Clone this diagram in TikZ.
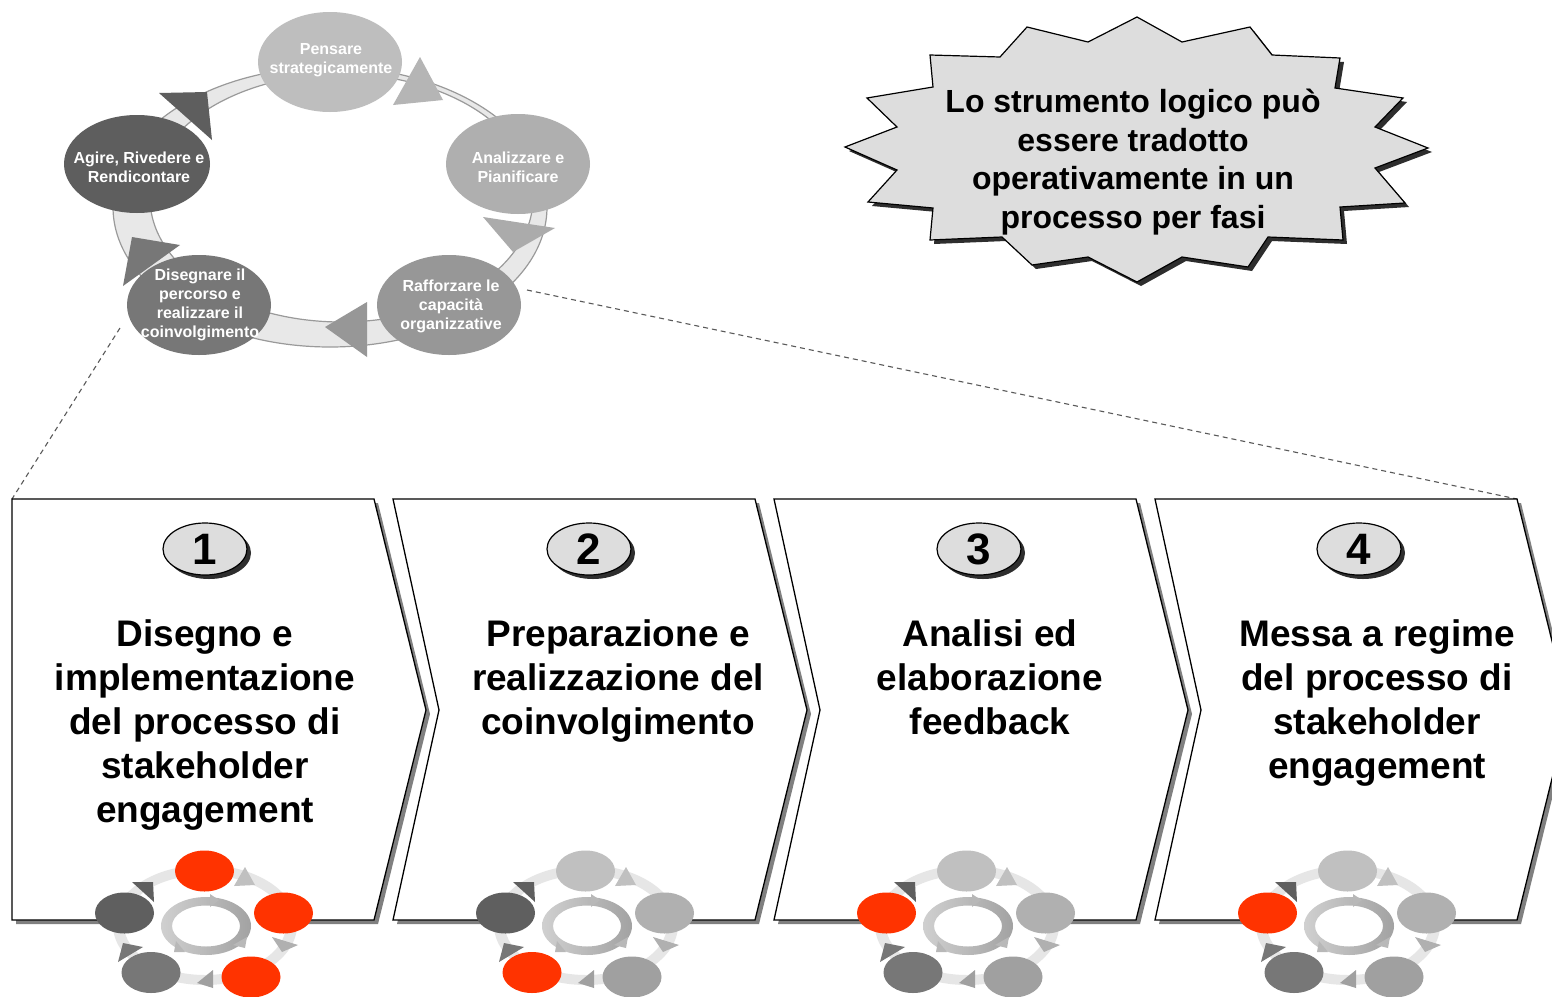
\documentclass[tikz,border=0pt]{standalone}
\usepackage{fontspec}
\setmainfont{Liberation Sans}
\usetikzlibrary{shapes.geometric,shadows}
\definecolor{redc}{HTML}{FF3300}
\definecolor{g1}{HTML}{BEBEBE}
\definecolor{g2}{HTML}{AFAFAF}
\definecolor{g3}{HTML}{979797}
\definecolor{g4}{HTML}{777777}
\definecolor{g5}{HTML}{5E5E5E}
\definecolor{t1c}{HTML}{B5B5B5}
\definecolor{t2c}{HTML}{ABABAB}
\definecolor{t3c}{HTML}{979797}
\definecolor{ringfill}{HTML}{E8E8E8}
\definecolor{ringedge}{HTML}{9A9A9A}
\definecolor{burstfill}{HTML}{DDDDDD}
\definecolor{burstshadow}{HTML}{2E2E2E}
\definecolor{chevshadow}{HTML}{808080}
\definecolor{numfill}{HTML}{DDDDDD}
\definecolor{dashc}{HTML}{5A5A5A}
\definecolor{s1}{HTML}{C0C0C0}
\definecolor{s2}{HTML}{B0B0B0}
\definecolor{s3}{HTML}{A0A0A0}
\definecolor{s4}{HTML}{777777}
\definecolor{s5}{HTML}{5F5F5F}
\definecolor{mtrack}{HTML}{E6E6E6}
\definecolor{ringL}{HTML}{D0D0D0}
\definecolor{ringR}{HTML}{A2A2A2}
\definecolor{tinyc}{HTML}{B8B8B8}
\tikzset{
  cyc/.style={ellipse, minimum width=144pt, minimum height=100pt, inner sep=0pt, draw=none},
  cyctxt/.style={text=white, font=\bfseries\fontsize{16}{19}\selectfont, align=center, inner sep=0pt},
  chevtxt/.style={font=\bfseries\fontsize{37}{44}\selectfont, align=center, inner sep=0pt},
  bursttxt/.style={font=\bfseries\fontsize{32}{38.5}\selectfont, align=center, inner sep=0pt},
  numoval/.style={ellipse, draw=black, line width=1.2pt, fill=numfill, minimum width=84pt, minimum height=52pt, inner sep=0pt, font=\bfseries\fontsize{44}{44}\selectfont, drop shadow={shadow xshift=4pt, shadow yshift=-4pt, fill=burstshadow, opacity=1}},
  chevbox/.style={fill=white, draw=black, line width=1.3pt, line join=miter},
  chevshade/.style={fill=chevshadow, draw=none},
  dashline/.style={draw=dashc, dash pattern=on 5pt off 4pt, line width=1.1pt},
  burst/.style={fill=burstfill, draw=black, line width=1.2pt, line join=miter},
  pics/minicyc/.style n args={5}{code={
    \fill[white] (0,0) ellipse (90pt and 58pt);
    \fill[mtrack, even odd rule] (0,0) ellipse (92pt and 60pt) (0,0) ellipse (81pt and 50pt);
    \shade[even odd rule, left color=ringL, right color=ringR] (1,1) ellipse (45pt and 29pt) (1,1) ellipse (34pt and 20.5pt);
    \fill[tinyc] (5,-31) -- (14,-25) -- (5,-18) -- cycle;
    \fill[tinyc] (42,12) -- (40,23) -- (28,20) -- cycle;
    \fill[tinyc] (-29,16) -- (-20,27) -- (-31,27) -- cycle;
    \fill[#1] (-0.5,-54) ellipse (29.5pt and 20.5pt);
    \fill[#2] (78.5,-12) ellipse (29.5pt and 20.5pt);
    \fill[#3] (46,52) ellipse (29.5pt and 20.5pt);
    \fill[#4] (-54,47.5) ellipse (29.5pt and 20.5pt);
    \fill[#5] (-80.5,-12) ellipse (29.5pt and 20.5pt);
    \fill[s5] (-73,-43) -- (-52,-43) -- (-51,-23) -- cycle;
    \fill[s1] (40,-58) -- (50,-40) -- (29,-39) -- cycle;
    \fill[s2] (67,12) -- (93,20) -- (77,27) -- cycle;
    \fill[s3] (-8,58) -- (8,45) -- (8,63) -- cycle;
    \fill[s4] (-82,18) -- (-62,22) -- (-87,37) -- cycle;
  }}
}
\begin{document}
\begin{tikzpicture}[x=1pt,y=-1pt]
\useasboundingbox (0,0) rectangle (1552,996);
\clip (0,0) rectangle (1552,996);
\fill[white] (0,0) rectangle (1552,996);

% connector anchor points
\coordinate (dl) at (120,328);
\coordinate (dr) at (527,290);
\coordinate (c1tl) at (12,499);
\coordinate (c4tr) at (1517,499);
\draw[dashline] (dl) -- (c1tl);
\draw[dashline] (dr) -- (c4tr);

% big cycle ring
\fill[ringfill, even odd rule] (330,207) ellipse (217pt and 140pt) (341.5,198) ellipse (191.5pt and 124pt);
\draw[ringedge, line width=1.2pt] (330,207) ellipse (217pt and 140pt);
\draw[ringedge, line width=1.2pt] (341.5,198) ellipse (191.5pt and 124pt);

\node[cyc, fill=g1] (pens) at (330,62) {};
\node[cyc, fill=g2] (anal) at (518,164) {};
\node[cyc, fill=g3] (raff) at (449,305) {};
\node[cyc, fill=g4] (dise) at (199,305) {};
\node[cyc, fill=g5, minimum width=146pt, minimum height=98pt] (agir) at (137,164) {};

\fill[t1c] (420,57) -- (443,100) -- (393,105) -- cycle;
\fill[t2c] (483,217) -- (555,228) -- (513,252) -- cycle;
\fill[t3c] (325,327) -- (367,302) -- (367,357) -- cycle;
\fill[g4] (132,237) -- (180,245) -- (123,286) -- cycle;
\fill[g5] (159,93) -- (207,92) -- (212,140) -- cycle;

\node[cyctxt] (pensT) at (331,60) {Pensare\\strategicamente};
\node[cyctxt] (analT) at (518,167) {Analizzare e\\Pianificare};
\node[cyctxt] (agirT) at (139,167) {Agire, Rivedere e\\Rendicontare};
\node[cyctxt] (diseT) at (200,305) {Disegnare il\\percorso e\\realizzare il\\coinvolgimento};
\node[cyctxt] (raffT) at (451,306) {Rafforzare le\\capacità\\organizzative};

% starburst
\fill[burstshadow, shift={(4,4)}] (1137,17) -- (1182,42) -- (1250,27) -- (1272,55) -- (1340,58) -- (1335,88) -- (1403,98) -- (1375,127) -- (1428,148) -- (1375,168) -- (1405,203) -- (1340,207) -- (1343,240) -- (1268,237) -- (1248,267) -- (1182,257) -- (1137,282) -- (1088,257) -- (1032,265) -- (1002,237) -- (930,240) -- (933,208) -- (868,202) -- (897,170) -- (845,147) -- (897,127) -- (867,98) -- (933,87) -- (930,55) -- (1000,57) -- (1027,27) -- (1088,42) -- cycle;
\draw[burst] (1137,17) -- (1182,42) -- (1250,27) -- (1272,55) -- (1340,58) -- (1335,88) -- (1403,98) -- (1375,127) -- (1428,148) -- (1375,168) -- (1405,203) -- (1340,207) -- (1343,240) -- (1268,237) -- (1248,267) -- (1182,257) -- (1137,282) -- (1088,257) -- (1032,265) -- (1002,237) -- (930,240) -- (933,208) -- (868,202) -- (897,170) -- (845,147) -- (897,127) -- (867,98) -- (933,87) -- (930,55) -- (1000,57) -- (1027,27) -- (1088,42) -- cycle;
\node[bursttxt] (burstT) at (1133,162) {Lo strumento logico può\\essere tradotto\\operativamente in un\\processo per fasi};

% chevrons
\fill[chevshade, shift={(4,4)}] (12,499) -- (374,499) -- (426,710) -- (374,920) -- (12,920) -- cycle;
\draw[chevbox] (12,499) -- (374,499) -- (426,710) -- (374,920) -- (12,920) -- cycle;
\fill[chevshade, shift={(4,4)}] (393,499) -- (755,499) -- (807,710) -- (755,920) -- (393,920) -- (439,710) -- cycle;
\draw[chevbox] (393,499) -- (755,499) -- (807,710) -- (755,920) -- (393,920) -- (439,710) -- cycle;
\fill[chevshade, shift={(4,4)}] (774,499) -- (1136,499) -- (1188,710) -- (1136,920) -- (774,920) -- (820,710) -- cycle;
\draw[chevbox] (774,499) -- (1136,499) -- (1188,710) -- (1136,920) -- (774,920) -- (820,710) -- cycle;
\fill[chevshade, shift={(4,4)}] (1155,499) -- (1517,499) -- (1569,710) -- (1517,920) -- (1155,920) -- (1201,710) -- cycle;
\draw[chevbox] (1155,499) -- (1517,499) -- (1569,710) -- (1517,920) -- (1155,920) -- (1201,710) -- cycle;

\node[numoval] (n1) at (205,549) {1};
\node[numoval] (n2) at (589,549) {2};
\node[numoval] (n3) at (979,549) {3};
\node[numoval] (n4) at (1359,549) {4};

\node[chevtxt] (ct1) at (205,725) {Disegno e\\implementazione\\del processo di\\stakeholder\\engagement};
\node[chevtxt] (ct2) at (618,681) {Preparazione e\\realizzazione del\\coinvolgimento};
\node[chevtxt] (ct3) at (990,677) {Analisi ed\\elaborazione\\feedback};
\node[chevtxt] (ct4) at (1377,703) {Messa a regime\\del processo di\\stakeholder\\engagement};

\pic at (205,925) {minicyc={redc}{redc}{redc}{s4}{s5}};
\pic at (586,925) {minicyc={s1}{s2}{s3}{redc}{s5}};
\pic at (967,925) {minicyc={s1}{s2}{s3}{s4}{redc}};
\pic at (1348,925) {minicyc={s1}{s2}{s3}{s4}{redc}};
\end{tikzpicture}
\end{document}
